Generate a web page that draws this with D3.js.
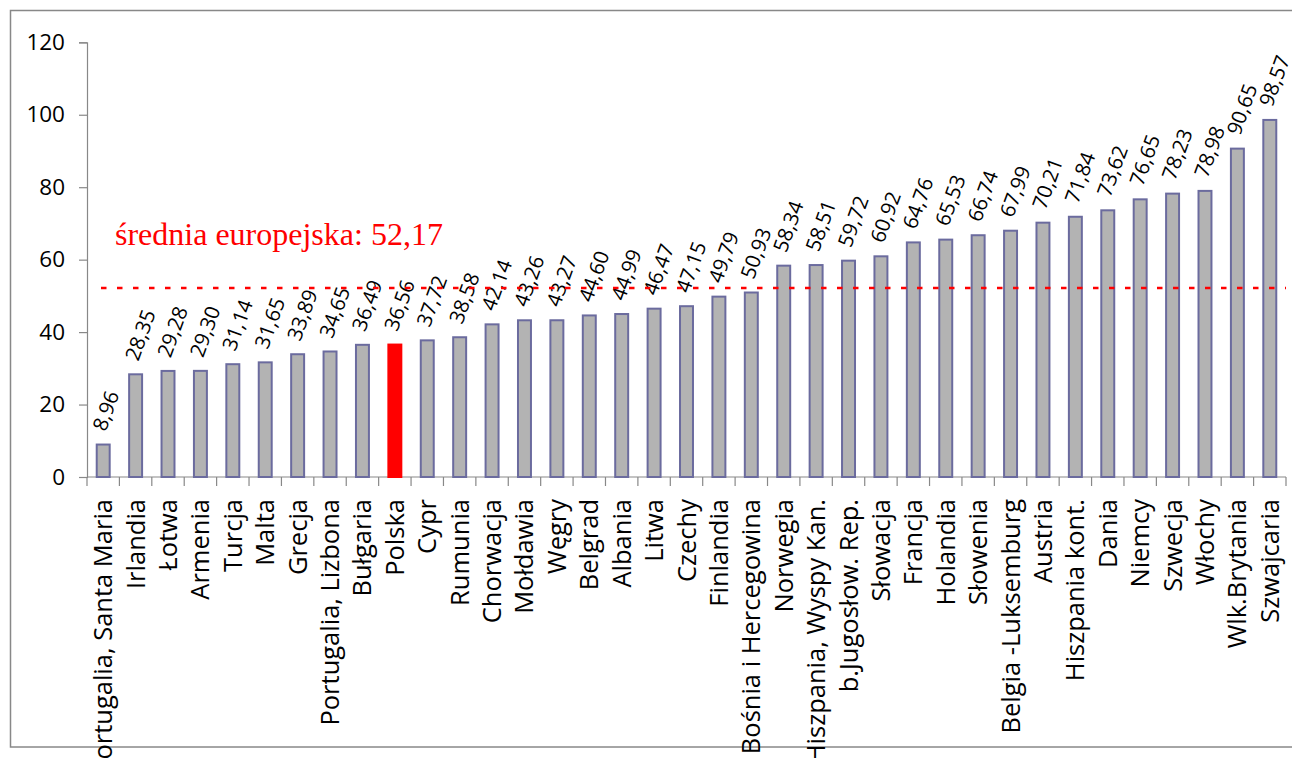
<!DOCTYPE html>
<html>
<head>
<meta charset="utf-8">
<script src="https://cdn.jsdelivr.net/npm/d3@7"></script>
<style>
  html, body { margin: 0; padding: 0; background: #fff; overflow: hidden; }
  svg { display: block; }
</style>
</head>
<body>
<svg id="chart"></svg>
<script>
const countries = [
  'Portugalia, Santa Maria', 'Irlandia', 'Łotwa', 'Armenia', 'Turcja', 'Malta',
  'Grecja', 'Portugalia, Lizbona', 'Bułgaria', 'Polska', 'Cypr', 'Rumunia',
  'Chorwacja', 'Mołdawia', 'Węgry', 'Belgrad', 'Albania', 'Litwa', 'Czechy',
  'Finlandia', 'Bośnia i Hercegowina', 'Norwegia', 'Hiszpania, Wyspy Kan.',
  'b.Jugosłow. Rep.', 'Słowacja', 'Francja', 'Holandia', 'Słowenia',
  'Belgia -Luksemburg', 'Austria', 'Hiszpania kont.', 'Dania', 'Niemcy',
  'Szwecja', 'Włochy', 'Wlk.Brytania', 'Szwajcaria'
];
const values = [
  8.96, 28.35, 29.28, 29.30, 31.14, 31.65, 33.89, 34.65, 36.49, 36.56, 37.72,
  38.58, 42.14, 43.26, 43.27, 44.60, 44.99, 46.47, 47.15, 49.79, 50.93, 58.34,
  58.51, 59.72, 60.92, 64.76, 65.53, 66.74, 67.99, 70.21, 71.84, 73.62, 76.65,
  78.23, 78.98, 90.65, 98.57
];
const yTicks = [0, 20, 40, 60, 80, 100, 120];
const highlight = 'Polska';
const europeAvg = 52.17;
const avgLabel = 'średnia europejska: 52,17';

const width = 1292;
const height = 758;
const margin = { top: 42.3, right: 6, bottom: 281, left: 87 };

const svg = d3.select('#chart')
  .attr('width', width)
  .attr('height', height);

const fmt = v => v.toFixed(2).replace('.', ',');

// outer frame (right edge runs past the picture)
svg.append('rect')
  .attr('x', 10.5)
  .attr('y', 10.5)
  .attr('width', 1300)
  .attr('height', 736.5)
  .attr('fill', 'none')
  .attr('stroke', '#888')
  .attr('stroke-width', 1.5);

const x = d3.scaleBand()
  .domain(countries)
  .range([margin.left, width - margin.right])
  .paddingInner(0.6)
  .paddingOuter(0.3);

const y = d3.scaleLinear()
  .domain([0, 120])
  .range([height - margin.bottom, margin.top]);

// y axis
const yAxis = svg.append('g')
  .attr('transform', `translate(${margin.left},0)`)
  .call(d3.axisLeft(y).tickValues(yTicks).tickSize(8).tickPadding(14));
yAxis.select('.domain').attr('stroke', '#888').attr('stroke-width', 1.2);
yAxis.selectAll('.tick line').attr('stroke', '#888').attr('stroke-width', 1.2);
yAxis.selectAll('.tick text')
  .attr('font-family', '"Open Sans", sans-serif')
  .attr('font-size', 22.5)
  .attr('fill', '#000');

// x axis line and boundary ticks
const x0 = y(0);
const step = x.step();
svg.append('line')
  .attr('x1', margin.left)
  .attr('x2', margin.left + step * countries.length)
  .attr('y1', x0)
  .attr('y2', x0)
  .attr('stroke', '#888')
  .attr('stroke-width', 1.2);
svg.append('g')
  .selectAll('line')
  .data(d3.range(countries.length + 1))
  .join('line')
  .attr('x1', i => margin.left + i * step)
  .attr('x2', i => margin.left + i * step)
  .attr('y1', x0)
  .attr('y2', x0 + 9)
  .attr('stroke', '#888')
  .attr('stroke-width', 1.2);

const data = countries.map((c, i) => ({ name: c, value: values[i] }));

// bars
svg.append('g')
  .selectAll('rect')
  .data(data)
  .join('rect')
  .attr('x', d => x(d.name))
  .attr('y', d => y(d.value))
  .attr('width', x.bandwidth())
  .attr('height', d => y(0) - y(d.value))
  .attr('fill', d => d.name === highlight ? '#ff0000' : '#b3b3b3')
  .attr('stroke', d => d.name === highlight ? '#ff0000' : '#6b6b9e')
  .attr('stroke-width', 2);

// value labels
svg.append('g')
  .selectAll('text')
  .data(data)
  .join('text')
  .attr('transform', d => `translate(${x(d.name) + x.bandwidth() / 2 - 5},${y(d.value) - 15}) rotate(-70)`)
  .attr('dominant-baseline', 'central')
  .attr('font-family', '"Open Sans", sans-serif')
  .attr('font-size', 20.5)
  .attr('fill', '#000')
  .text(d => fmt(d.value));

// category labels
svg.append('g')
  .selectAll('text')
  .data(data)
  .join('text')
  .attr('transform', d => `translate(${x(d.name) + x.bandwidth() / 2 - 1},499) rotate(-90)`)
  .attr('text-anchor', 'end')
  .attr('dominant-baseline', 'central')
  .attr('font-family', '"Open Sans", sans-serif')
  .attr('font-size', 25.5)
  .attr('fill', '#000')
  .text(d => d.name);

// european average
svg.append('line')
  .attr('x1', 101)
  .attr('x2', margin.left + step * countries.length)
  .attr('y1', y(europeAvg))
  .attr('y2', y(europeAvg))
  .attr('stroke', '#ff0000')
  .attr('stroke-width', 2.5)
  .attr('stroke-dasharray', '5.5 10.5');

svg.append('text')
  .attr('x', 115)
  .attr('y', 245)
  .attr('font-family', '"Liberation Serif", "Times New Roman", serif')
  .attr('font-size', 32)
  .attr('fill', '#ff0000')
  .text(avgLabel);
</script>
</body>
</html>
